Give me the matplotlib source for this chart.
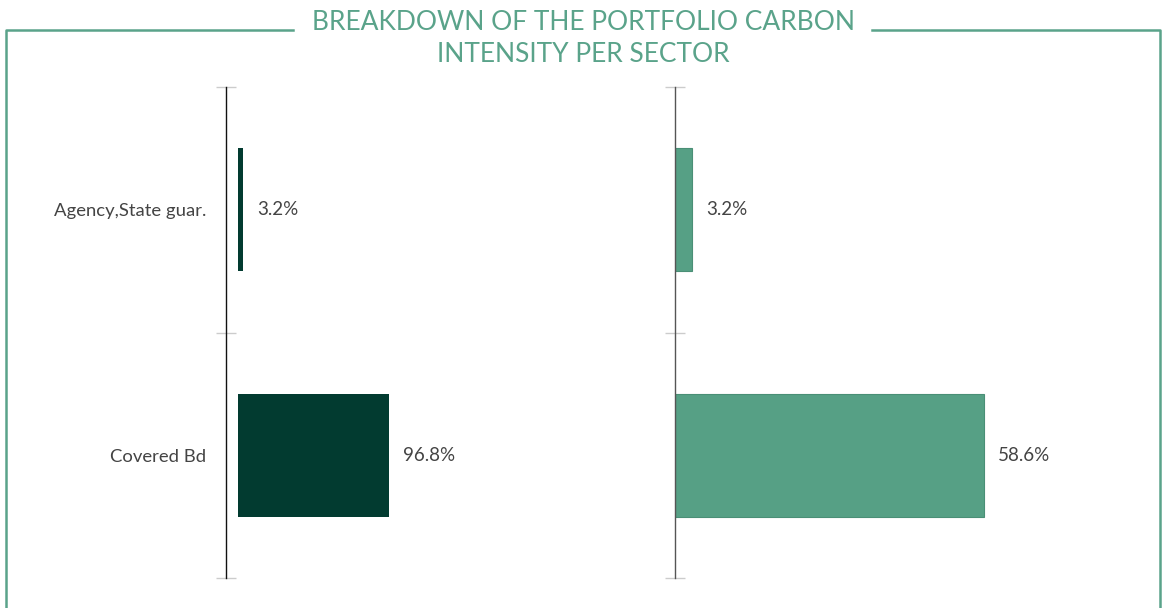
import matplotlib.pyplot as plt
from matplotlib.lines import Line2D

sectors = ['Agency,State guar.', 'Covered Bd']
weights = [3.2, 96.8]
intensity = [3.2, 58.6]

dark = '#023b30'
light = '#56a085'
frame_green = '#5aa38a'
text_col = '#444444'

plt.rcParams['font.family'] = ['Lato', 'DejaVu Sans']

W, H = 1172, 608
fig = plt.figure(figsize=(W / 100, H / 100), dpi=100)


def px(x0, y0, x1, y1):
    return [x0 / W, 1 - y1 / H, (x1 - x0) / W, (y1 - y0) / H]


def style_axis(ax, spine_col, show_labels):
    for s in ['top', 'right', 'bottom']:
        ax.spines[s].set_visible(False)
    ax.spines['left'].set_color(spine_col)
    ax.spines['left'].set_linewidth(1)
    ax.set_ylim(1.5, -0.5)
    ax.set_yticks([0, 1])
    ax.set_yticks([-0.5, 0.5, 1.5], minor=True)
    ax.tick_params(axis='y', which='major', length=0, pad=14,
                   labelsize=13.3, labelcolor=text_col)
    ax.tick_params(axis='y', which='minor', direction='inout', length=15,
                   width=1, color='#cccccc')
    if show_labels:
        ax.set_yticklabels(sectors)
    else:
        ax.set_yticklabels([])
    ax.set_xticks([])


# left panel: weights
ax1 = fig.add_axes(px(226, 87, 640, 578))
ax1.barh(range(len(sectors)), weights, height=0.5, color=dark)
ax1.set_xlim(-7.7, 257.7)
style_axis(ax1, '#111111', True)
for i, v in enumerate(weights):
    ax1.annotate(f'{v}%', (v, i), xytext=(10, 0), textcoords='offset points',
                 va='center', ha='left', fontsize=13.5, color=text_col)

# right panel: carbon intensity
ax2 = fig.add_axes(px(675, 87, 1160, 578))
ax2.barh(range(len(sectors)), intensity, height=0.5, color=light,
         edgecolor='#4a8f76', linewidth=0.8)
ax2.set_xlim(0, 92)
style_axis(ax2, '#555555', False)
for i, v in enumerate(intensity):
    ax2.annotate(f'{v}%', (v, i), xytext=(10, 0), textcoords='offset points',
                 va='center', ha='left', fontsize=13.5, color=text_col)

# frame around the chart with a gap for the title
def fline(xs, ys):
    fig.add_artist(Line2D([x / W for x in xs], [1 - y / H for y in ys],
                          color=frame_green, linewidth=1.8))

fline([6, 6, 293], [608, 30, 30])
fline([872, 1160, 1160], [30, 30, 608])

fig.text(583 / W, 1 - 38.5 / H, 'BREAKDOWN OF THE PORTFOLIO CARBON\nINTENSITY PER SECTOR',
         ha='center', va='center', fontsize=19, color=frame_green,
         linespacing=1.4)

fig.savefig('out.png', dpi=100)
